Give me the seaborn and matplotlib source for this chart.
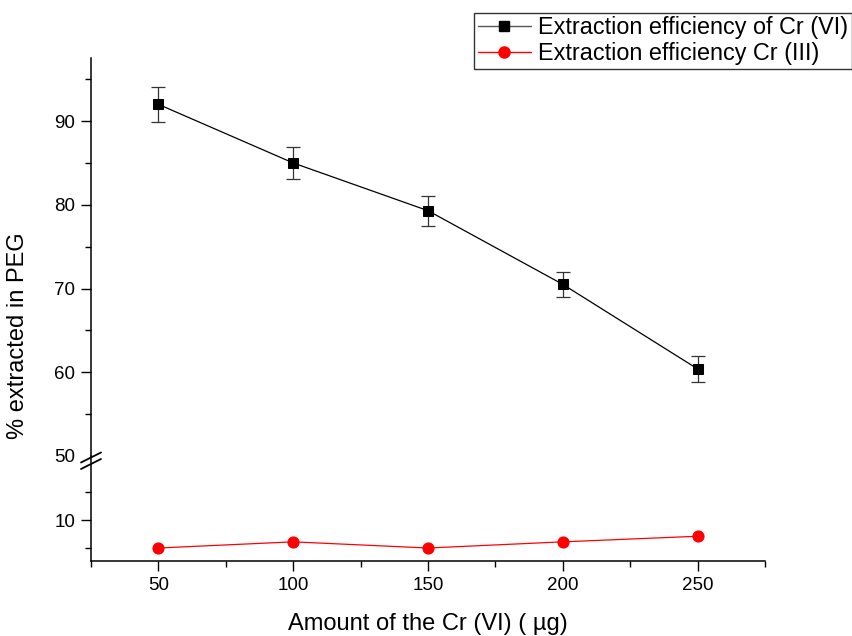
import matplotlib
matplotlib.use("Agg")
import matplotlib.pyplot as plt
import seaborn as sns
import numpy as np
import pandas as pd
from matplotlib.lines import Line2D
from matplotlib.ticker import FixedLocator

sns.set_theme(style="white")
plt.rcParams['font.family'] = ['Liberation Sans', 'DejaVu Sans']
plt.rcParams['text.color'] = 'black'
plt.rcParams['axes.labelcolor'] = 'black'
plt.rcParams['xtick.color'] = 'black'
plt.rcParams['ytick.color'] = 'black'

# ---- data ----
amount = [50, 100, 150, 200, 250]
cr6 = [92.0, 85.0, 79.3, 70.5, 60.4]
cr6_err = [2.1, 1.9, 1.8, 1.5, 1.6]
cr3 = [5.0, 6.1, 5.0, 6.1, 7.1]
label_cr6 = "Extraction efficiency of Cr (VI)"
label_cr3 = "Extraction efficiency Cr (III)"
xlabel = "Amount of the Cr (VI) ( \u00b5g)"
ylabel = "% extracted in PEG"

df = pd.DataFrame({"amount": amount, "cr6": cr6, "cr3": cr3})

W, H = 852, 636
fig = plt.figure(figsize=(W / 100, H / 100), dpi=100)

def fx(px):
    return px / W

def fy(px):
    return 1 - px / H

left = fx(91)
width = fx(765) - fx(91)
ax_top = fig.add_axes([left, fy(456), width, fy(58.3) - fy(456)])
ax_bot = fig.add_axes([left, fy(561), width, fy(456) - fy(561)])

for ax in (ax_top, ax_bot):
    ax.set_facecolor("white")
    ax.set_xlim(25, 275)
    for s in ("top", "right"):
        ax.spines[s].set_visible(False)
    ax.spines["left"].set_color("black")
    ax.spines["left"].set_linewidth(1.1)
    ax.spines["bottom"].set_color("black")
    ax.spines["bottom"].set_linewidth(1.1)
    ax.tick_params(axis="both", which="major", direction="out", length=7.5,
                   width=1.0, color="black", labelcolor="black",
                   labelsize=13.5, pad=4, left=True, bottom=True)
    ax.tick_params(axis="both", which="minor", direction="out", length=4,
                   width=1.0, color="black", left=True, bottom=True)
    ax.grid(False)

# upper part
sns.lineplot(data=df, x="amount", y="cr6", ax=ax_top, color="black",
             linewidth=0.9, marker="s", markersize=7.5, markeredgecolor="black",
             label=label_cr6, legend=False)
ax_top.errorbar(amount, cr6, yerr=cr6_err, fmt="none", ecolor="#333333",
                elinewidth=0.9, capsize=5, capthick=0.9, zorder=1)
ax_top.set_ylim(50, 97.5)
ax_top.yaxis.set_major_locator(FixedLocator([50, 60, 70, 80, 90]))
ax_top.yaxis.set_minor_locator(FixedLocator([55, 65, 75, 85, 95]))
ax_top.spines["bottom"].set_visible(False)
ax_top.tick_params(axis="x", which="both", bottom=False, labelbottom=False)
ax_top.yaxis.get_major_ticks()[0].tick1line.set_visible(False)
ax_top.set_xlabel("")
ax_top.set_ylabel("")

# lower part
sns.lineplot(data=df, x="amount", y="cr3", ax=ax_bot, color="red",
             linewidth=0.9, marker="o", markersize=8, markeredgecolor="red",
             label=label_cr3, legend=False)
ax_bot.set_ylim(2.68, 21.43)
ax_bot.yaxis.set_major_locator(FixedLocator([10]))
ax_bot.yaxis.set_minor_locator(FixedLocator([5, 15]))
ax_bot.xaxis.set_major_locator(FixedLocator([50, 100, 150, 200, 250]))
ax_bot.xaxis.set_minor_locator(FixedLocator([25, 75, 125, 175, 225, 275]))
ax_bot.set_ylabel("")
ax_bot.set_xlabel(xlabel, fontsize=17, labelpad=13.5, color="black")

# break marks on left spine
for yc in (457.5, 464.0):
    fig.add_artist(Line2D([fx(81), fx(101)], [fy(yc + 5), fy(yc - 5)],
                          color="black", linewidth=1.3,
                          transform=fig.transFigure))

fig.text(fx(18), fy(336), ylabel, rotation=90, ha="center", va="center",
         fontsize=17, color="black")

handles = [
    Line2D([], [], color="#555555", linewidth=1.0, marker="s", markersize=7.5,
           markerfacecolor="black", markeredgecolor="black"),
    Line2D([], [], color="red", linewidth=1.0, marker="o", markersize=8),
]
leg = fig.legend(handles, [label_cr6, label_cr3], loc="upper left",
                 bbox_to_anchor=(fx(474), fy(12.7)), frameon=True,
                 fancybox=False, edgecolor="black", fontsize=16.8,
                 borderaxespad=0, borderpad=0.15, handlelength=2.3,
                 handletextpad=0.3, labelspacing=0.12)
leg.get_frame().set_linewidth(1.0)
for t in leg.get_texts():
    t.set_color("black")

fig.savefig("out.png", dpi=100, facecolor="white")
